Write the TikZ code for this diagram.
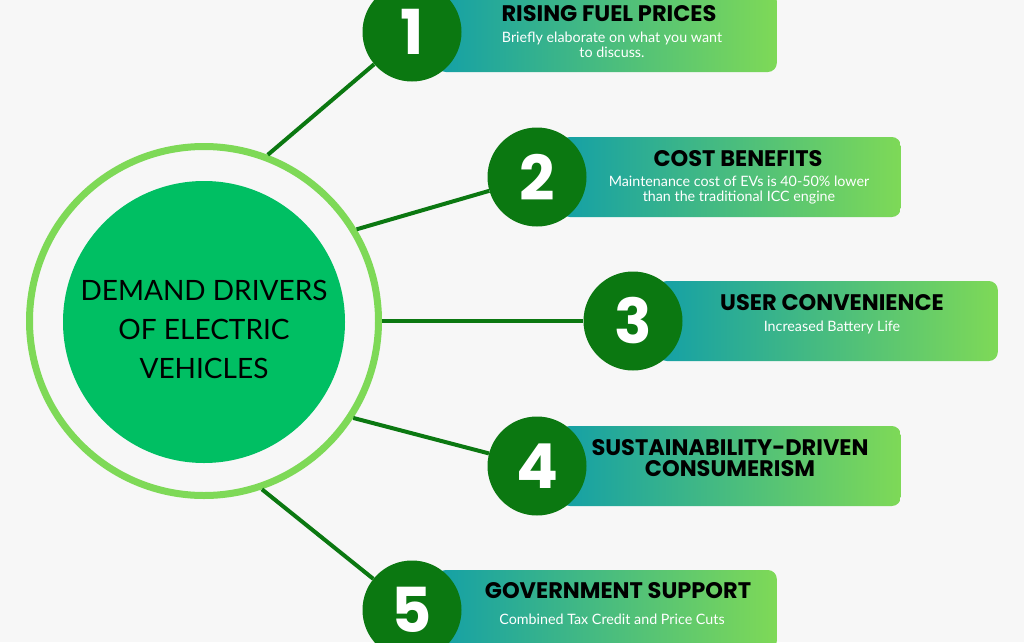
\documentclass[tikz,border=0pt]{standalone}
\usepackage{fontspec}
\setmainfont{Lato}
\newfontfamily\numfont{Poppins}
\usetikzlibrary{positioning}

\definecolor{paper}{HTML}{F7F7F7}
\definecolor{halogreen}{HTML}{7ED957}
\definecolor{hubgreen}{HTML}{00BF63}
\definecolor{dotgreen}{HTML}{0B7811}
\definecolor{barteal}{HTML}{14A0A6}
\definecolor{barlime}{HTML}{7ED957}

\tikzset{
  halo/.style={circle, draw=halogreen, line width=7pt, minimum size=349pt, inner sep=0pt},
  hub/.style={circle, fill=hubgreen, minimum size=282pt, inner sep=0pt},
  numdot/.style={circle, fill=dotgreen, minimum size=99pt, inner sep=0pt, text=white,
    font=\numfont\bfseries\fontsize{62}{62}\selectfont},
  bar/.style={rectangle, rounded corners=9pt, left color=barteal, right color=barlime,
    minimum height=80pt, minimum width=340pt, inner sep=0pt, anchor=east},
  head/.style={font=\numfont\bfseries\fontsize{22.5}{21}\selectfont, text=black, align=center},
  blurb/.style={font=\fontsize{14.3}{15.5}\selectfont, text=white, align=center},
  spoke/.style={draw=dotgreen, line width=4pt}
}

\begin{document}
\begin{tikzpicture}[x=1pt, y=-1pt]
\clip (0,0) rectangle (1024,642);
\fill[paper] (0,0) rectangle (1024,642);

% centre
\node[halo] (halo) at (204,321) {};
\node[hub] (hub) at (204,322) {};
\node[align=center, font=\fontsize{28}{39}\selectfont] (hubtext) at (204,329)
  {DEMAND DRIVERS\\OF ELECTRIC\\VEHICLES};

% bars
\node[bar] (bar1) at (777,32) {};
\node[bar] (bar2) at (901,177) {};
\node[bar] (bar3) at (998,321) {};
\node[bar] (bar4) at (901,466) {};
\node[bar] (bar5) at (777,610) {};

\node[head] (head1) at (609,14) {RISING FUEL PRICES};
\node[blurb] (note1) at (612,45) {Briefly elaborate on what you want\\to discuss.};
\node[head] (head2) at (738,159) {COST BENEFITS};
\node[blurb] (note2) at (739,190) {Maintenance cost of EVs is 40-50\% lower\\than the traditional ICC engine};
\node[head] (head3) at (832,303) {USER CONVENIENCE};
\node[blurb] (note3) at (832,327) {Increased Battery Life};
\node[head] (head4) at (730,458) {SUSTAINABILITY-DRIVEN\\CONSUMERISM};
\node[head] (head5) at (618,591) {GOVERNMENT SUPPORT};
\node[blurb] (note5) at (612,619) {Combined Tax Credit and Price Cuts};

% numbers
\node[numdot] (n1) at (412,32) {1};
\node[numdot] (n2) at (537,177) {2};
\node[numdot] (n3) at (633,321) {3};
\node[numdot] (n4) at (537,466) {4};
\node[numdot] (n5) at (412,610) {5};

% spokes
\draw[spoke] (halo.69) -- (n1);
\draw[spoke] (halo.31) -- (n2);
\draw[spoke] (halo.0) -- (n3);
\draw[spoke] (halo.-33) -- (n4);
\draw[spoke] (halo.-71) -- (n5);
\end{tikzpicture}
\end{document}
